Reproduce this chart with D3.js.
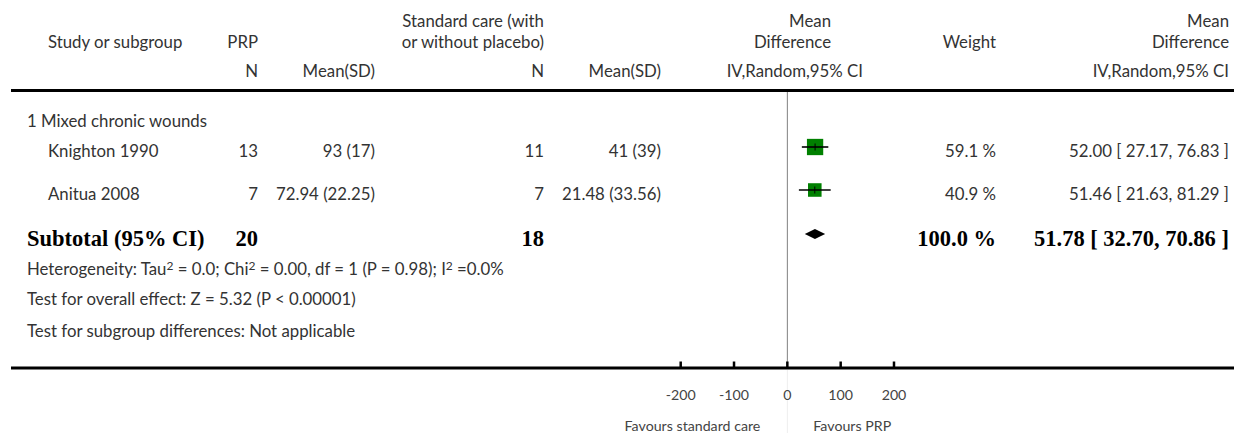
<!DOCTYPE html>
<html>
<head>
<meta charset="utf-8">
<script src="https://cdn.jsdelivr.net/npm/d3@7/dist/d3.min.js"></script>
<style>
  html, body { margin: 0; padding: 0; background: #fff; }
  svg { display: block; }
  .t { font-family: Lato, "Open Sans", sans-serif; font-size: 16.8px; fill: #333; }
  .b { font-family: "Liberation Serif", "Times New Roman", serif; font-size: 22.5px; font-weight: bold; fill: #000; }
  .s { font-family: Lato, "Open Sans", sans-serif; font-size: 14.2px; fill: #444; }
</style>
</head>
<body>
<svg id="chart" width="1234" height="433"></svg>
<script>
// Study-level data
const studies   = ["Knighton 1990", "Anitua 2008"];
const prpN      = [13, 7];
const prpMeanSD = ["93 (17)", "72.94 (22.25)"];
const scN       = [11, 7];
const scMeanSD  = ["41 (39)", "21.48 (33.56)"];
const md        = [52.00, 51.46];
const ciLow     = [27.17, 21.63];
const ciHigh    = [76.83, 81.29];
const weights   = [59.1, 40.9];

// Pooled (subtotal) result
const subgroup     = "1 Mixed chronic wounds";
const totalPrpN    = 20;
const totalScN     = 18;
const totalMD      = 51.78;
const totalLow     = 32.70;
const totalHigh    = 70.86;
const totalWeight  = 100.0;

// Axis
const axisTicks = [-200, -100, 0, 100, 200];
const axisDomain = [-200, 200];
const favoursLeft = "Favours standard care";
const favoursRight = "Favours PRP";

const svg = d3.select("#chart");
const W = 1234;

const x = d3.scaleLinear().domain(axisDomain).range([680.7, 894]);

// column anchors
const col = { study: 27, prpN: 258, prpM: 375, scN: 544, scM: 661, fp: 831, fpSub: 863, wt: 996, md: 1229 };

function txt(cls, xx, yy, s, anchor) {
  return svg.append("text").attr("class", cls).attr("x", xx).attr("y", yy)
    .attr("dy", "0.35em").attr("text-anchor", anchor || "end").text(s);
}

// Header
txt("t", 48, 42, "Study or subgroup", "start");
txt("t", col.prpN, 42, "PRP");
txt("t", col.scN, 21, "Standard care (with");
txt("t", col.scN, 42, "or without placebo)");
txt("t", col.fp, 21, "Mean");
txt("t", col.fp, 42, "Difference");
txt("t", col.wt, 42, "Weight");
txt("t", col.md, 21, "Mean");
txt("t", col.md, 42, "Difference");
txt("t", col.prpN, 71, "N");
txt("t", col.prpM, 71, "Mean(SD)");
txt("t", col.scN, 71, "N");
txt("t", col.scM, 71, "Mean(SD)");
txt("t", col.fpSub, 71, "IV,Random,95% CI");
txt("t", col.md, 71, "IV,Random,95% CI");

svg.append("line").attr("x1", 11).attr("x2", W).attr("y1", 90.5).attr("y2", 90.5)
  .attr("stroke", "#000").attr("stroke-width", 3);

// Zero line
svg.append("line").attr("x1", x(0)).attr("x2", x(0)).attr("y1", 92).attr("y2", 367)
  .attr("stroke", "#808080").attr("stroke-width", 1);
svg.append("line").attr("x1", x(0)).attr("x2", x(0)).attr("y1", 370).attr("y2", 433)
  .attr("stroke", "#eeeeee").attr("stroke-width", 1);

// Subgroup label
txt("t", col.study, 121, subgroup, "start");

// Study rows
const rowY = [151, 194];
const markY = [147, 190];
const fmt2 = d3.format(".2f");
studies.forEach((s, i) => {
  const y = rowY[i];
  txt("t", 48, y, s, "start");
  txt("t", col.prpN, y, prpN[i]);
  txt("t", col.prpM, y, prpMeanSD[i]);
  txt("t", col.scN, y, scN[i]);
  txt("t", col.scM, y, scMeanSD[i]);
  txt("t", col.wt, y, d3.format(".1f")(weights[i]) + " %");
  txt("t", col.md, y, `${fmt2(md[i])} [ ${fmt2(ciLow[i])}, ${fmt2(ciHigh[i])} ]`);

  const my = markY[i];
  const side = 2.12 * Math.sqrt(weights[i]);
  svg.append("rect").attr("x", x(md[i]) - side / 2).attr("y", my - side / 2)
    .attr("width", side).attr("height", side).attr("fill", "#008000");
  svg.append("line").attr("x1", x(ciLow[i])).attr("x2", x(ciHigh[i])).attr("y1", my).attr("y2", my)
    .attr("stroke", "#000").attr("stroke-width", 1.6);
  svg.append("line").attr("x1", x(md[i])).attr("x2", x(md[i])).attr("y1", my - 3.5).attr("y2", my + 3.5)
    .attr("stroke", "#000").attr("stroke-width", 1);
});

// Subtotal row
const subY = 238;
txt("b", col.study, subY, "Subtotal (95% CI)", "start");
txt("b", col.prpN, subY, totalPrpN);
txt("b", col.scN, subY, totalScN);
txt("b", col.wt, subY, d3.format(".1f")(totalWeight) + " %");
txt("b", col.md, subY, `${fmt2(totalMD)} [ ${fmt2(totalLow)}, ${fmt2(totalHigh)} ]`);

const dY = 234, dH = 5;
svg.append("path")
  .attr("d", `M${x(totalLow)},${dY} L${x(totalMD)},${dY - dH} L${x(totalHigh)},${dY} L${x(totalMD)},${dY + dH} Z`)
  .attr("fill", "#000");

// Heterogeneity / tests (parts with a "power" field are drawn as superscripts)
function supText(yy, parts) {
  const t = svg.append("text").attr("class", "t").attr("x", col.study).attr("y", yy).attr("dy", "0.35em");
  let raised = false;
  parts.forEach(p => {
    if (typeof p === "object") {
      t.append("tspan").attr("dy", "-5px").attr("font-size", "12px").text(p.power);
      raised = true;
    } else {
      const sp = t.append("tspan").text(p);
      if (raised) { sp.attr("dy", "5px"); raised = false; }
    }
  });
}
supText(269, ["Heterogeneity: Tau", {power: "2"}, " = 0.0; Chi", {power: "2"}, " = 0.00, df = 1 (P = 0.98); I", {power: "2"}, " =0.0%"]);
txt("t", col.study, 299, "Test for overall effect: Z = 5.32 (P < 0.00001)", "start");
txt("t", col.study, 331, "Test for subgroup differences: Not applicable", "start");

// Bottom axis
const axisY = 368;
svg.append("line").attr("x1", 11).attr("x2", W).attr("y1", axisY).attr("y2", axisY)
  .attr("stroke", "#000").attr("stroke-width", 3);
const g = svg.append("g").attr("transform", `translate(0,${axisY})`);
g.selectAll("line.tick").data(axisTicks).join("line").attr("class", "tick")
  .attr("x1", d => x(d)).attr("x2", d => x(d)).attr("y1", 0).attr("y2", -6.5)
  .attr("stroke", "#000").attr("stroke-width", 2.5);
g.selectAll("text.tl").data(axisTicks).join("text").attr("class", "s tl")
  .attr("x", d => x(d)).attr("y", 27).attr("dy", "0.35em").attr("text-anchor", "middle")
  .text(d => String(d));

svg.append("text").attr("class", "s").attr("x", x(0) - 27).attr("y", 426).attr("dy", "0.35em")
  .attr("text-anchor", "end").text(favoursLeft);
svg.append("text").attr("class", "s").attr("x", x(0) + 26).attr("y", 426).attr("dy", "0.35em")
  .attr("text-anchor", "start").text(favoursRight);
</script>
</body>
</html>
